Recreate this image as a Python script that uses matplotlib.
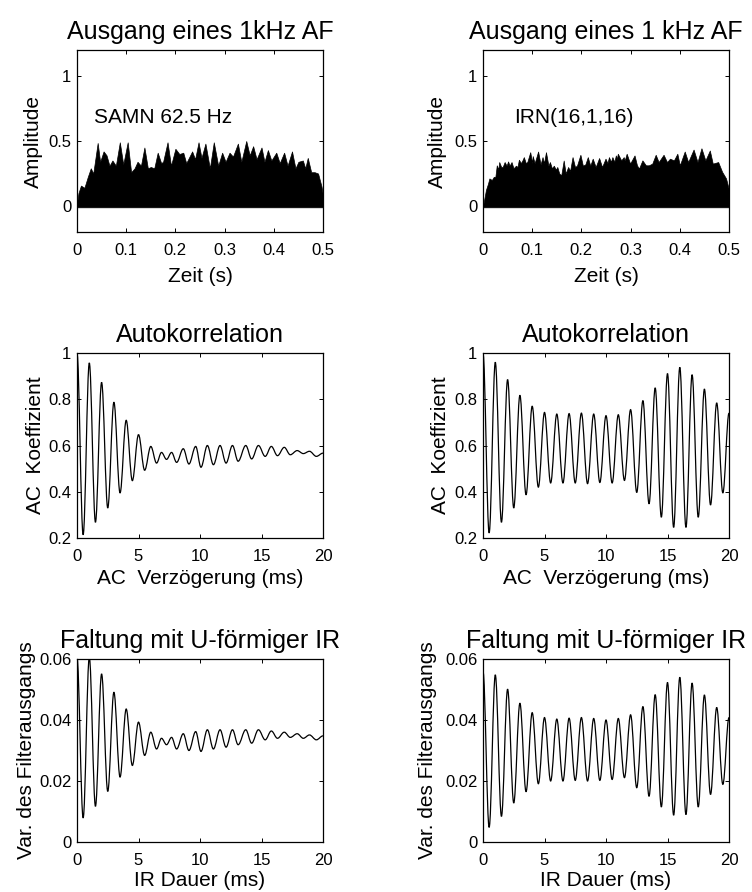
import matplotlib
matplotlib.use("Agg")
import matplotlib.pyplot as plt
from matplotlib.path import Path
from matplotlib.patches import PathPatch
from matplotlib.ticker import FormatStrFormatter

plt.rcParams['font.family'] = ['Liberation Sans', 'DejaVu Sans']

# --- top row: upper envelope of the 1 kHz filter output
samn_t = [0.000, 0.003, 0.008, 0.015, 0.022, 0.028, 0.033, 0.042, 0.047, 0.054,
          0.060, 0.066, 0.072, 0.079, 0.087, 0.094, 0.103, 0.110, 0.117, 0.123,
          0.130, 0.137, 0.144, 0.150, 0.157, 0.164, 0.171, 0.175, 0.184, 0.191,
          0.200, 0.208, 0.216, 0.222, 0.234, 0.240, 0.247, 0.253, 0.261, 0.270,
          0.278, 0.287, 0.295, 0.302, 0.310, 0.317, 0.327, 0.334, 0.344, 0.351,
          0.358, 0.365, 0.375, 0.381, 0.388, 0.395, 0.405, 0.412, 0.421, 0.428,
          0.437, 0.444, 0.450, 0.459, 0.464, 0.469, 0.476, 0.483, 0.490, 0.497,
          0.500]
samn_amp = [0.02, 0.10, 0.157, 0.14, 0.225, 0.29, 0.25, 0.485, 0.34, 0.42,
            0.39, 0.31, 0.35, 0.31, 0.49, 0.32, 0.49, 0.26, 0.29, 0.34,
            0.31, 0.45, 0.29, 0.30, 0.29, 0.41, 0.33, 0.34, 0.49, 0.31,
            0.44, 0.40, 0.41, 0.33, 0.42, 0.36, 0.49, 0.37, 0.48, 0.29,
            0.49, 0.31, 0.41, 0.34, 0.41, 0.38, 0.48, 0.34, 0.50, 0.39,
            0.46, 0.36, 0.45, 0.34, 0.43, 0.35, 0.41, 0.33, 0.41, 0.31,
            0.42, 0.29, 0.34, 0.35, 0.29, 0.37, 0.26, 0.26, 0.25, 0.15,
            0.08]

irn_t = [0.000, 0.006, 0.010, 0.013, 0.018, 0.022, 0.025, 0.028, 0.031, 0.033,
         0.037, 0.040, 0.044, 0.048, 0.051, 0.054, 0.058, 0.062, 0.067, 0.070,
         0.073, 0.077, 0.080, 0.083, 0.087, 0.090, 0.096, 0.100, 0.101, 0.105,
         0.112, 0.117, 0.121, 0.124, 0.128, 0.133, 0.136, 0.140, 0.144, 0.148,
         0.151, 0.155, 0.159, 0.164, 0.168, 0.173, 0.177, 0.182, 0.187, 0.191,
         0.198, 0.203, 0.208, 0.213, 0.218, 0.223, 0.229, 0.236, 0.242, 0.249,
         0.253, 0.256, 0.260, 0.263, 0.267, 0.270, 0.272, 0.274, 0.281, 0.286,
         0.288, 0.292, 0.299, 0.308, 0.313, 0.317, 0.324, 0.331, 0.337, 0.344,
         0.351, 0.357, 0.367, 0.374, 0.380, 0.388, 0.395, 0.400, 0.410, 0.417,
         0.428, 0.436, 0.444, 0.452, 0.461, 0.467, 0.478, 0.486, 0.494, 0.500]
irn_amp = [0.00, 0.124, 0.17, 0.212, 0.20, 0.225, 0.22, 0.313, 0.28, 0.338,
           0.30, 0.30, 0.338, 0.31, 0.343, 0.31, 0.338, 0.29, 0.31, 0.30,
           0.356, 0.33, 0.35, 0.376, 0.33, 0.338, 0.414, 0.33, 0.384, 0.33,
           0.419, 0.32, 0.376, 0.33, 0.414, 0.31, 0.338, 0.29, 0.31, 0.28,
           0.30, 0.25, 0.236, 0.35, 0.25, 0.30, 0.27, 0.376, 0.30, 0.31,
           0.394, 0.31, 0.32, 0.376, 0.31, 0.364, 0.30, 0.369, 0.30, 0.364,
           0.33, 0.376, 0.34, 0.376, 0.34, 0.389, 0.36, 0.402, 0.351, 0.376,
           0.35, 0.402, 0.326, 0.389, 0.313, 0.288, 0.351, 0.313, 0.313, 0.326,
           0.394, 0.338, 0.394, 0.338, 0.364, 0.351, 0.402, 0.313, 0.419, 0.338,
           0.434, 0.338, 0.444, 0.351, 0.427, 0.326, 0.338, 0.263, 0.212, 0.124]

# --- middle row: autocorrelation, successive peaks and troughs (ms, coefficient)
ac_samn_lag = [0, 0.5, 1, 1.5, 2, 2.5, 3, 3.5, 4, 4.5, 5, 5.5, 6, 6.47, 6.87,
               7.28, 7.69, 8.1, 8.64, 9.1, 9.65, 10.08, 10.6, 11.09, 11.63,
               12.12, 12.64, 13.1, 13.72, 14.2, 14.75, 15.3, 15.8, 16.3,
               16.85, 17.34, 17.9, 18.4, 18.9, 19.46, 20]
ac_samn = [1.0, 0.214, 0.957, 0.268, 0.873, 0.33, 0.787, 0.395, 0.709, 0.448,
           0.647, 0.493, 0.596, 0.524, 0.57, 0.54, 0.57, 0.527, 0.586, 0.52,
           0.596, 0.506, 0.60, 0.517, 0.60, 0.524, 0.60, 0.532, 0.60, 0.542,
           0.60, 0.553, 0.596, 0.556, 0.592, 0.56, 0.578, 0.565, 0.575, 0.553,
           0.567]

ac_irn_lag = [0, 0.5, 1, 1.5, 2, 2.5, 3, 3.5, 4, 4.5, 5, 5.5, 6, 6.5, 7, 7.5,
              8, 8.5, 9, 9.5, 10, 10.5, 11, 11.5, 12, 12.5, 13, 13.5, 14, 14.5,
              15, 15.5, 16, 16.5, 17, 17.5, 18, 18.5, 19, 19.5, 20]
ac_irn = [1.0, 0.222, 0.96, 0.268, 0.885, 0.33, 0.817, 0.387, 0.77, 0.42,
          0.743, 0.438, 0.736, 0.438, 0.738, 0.438, 0.74, 0.435, 0.736, 0.44,
          0.729, 0.438, 0.733, 0.449, 0.755, 0.397, 0.794, 0.348, 0.849, 0.29,
          0.911, 0.246, 0.938, 0.246, 0.906, 0.29, 0.844, 0.343, 0.784, 0.395,
          0.74]

# --- bottom row: variance of output after U-shaped IR
var_samn_dur = ac_samn_lag
var_samn = [0.0605, 0.0079, 0.0605, 0.0117, 0.0551, 0.0166, 0.0491, 0.0213,
            0.0436, 0.0251, 0.0393, 0.0284, 0.036, 0.0305, 0.034, 0.0319,
            0.0343, 0.0305, 0.0355, 0.030, 0.0362, 0.0297, 0.0368, 0.0305,
            0.0368, 0.0311, 0.0368, 0.0319, 0.0368, 0.0324, 0.0368, 0.0335,
            0.0364, 0.034, 0.036, 0.0343, 0.0355, 0.034, 0.0351, 0.0335,
            0.0348]

var_irn_dur = ac_irn_lag
var_irn = [0.056, 0.0048, 0.0548, 0.0084, 0.0501, 0.0128, 0.0455, 0.0165,
           0.0424, 0.0191, 0.0408, 0.020, 0.0403, 0.020, 0.0406, 0.0202,
           0.0408, 0.020, 0.0405, 0.0202, 0.040, 0.0205, 0.0405, 0.0211,
           0.0417, 0.0178, 0.0444, 0.015, 0.0483, 0.0115, 0.0523, 0.0088,
           0.054, 0.009, 0.0521, 0.0115, 0.0482, 0.0156, 0.0441, 0.0189,
           0.0408]


def extrema_curve(ax, xs, ys):
    # smooth curve through successive extrema (horizontal tangent at each)
    verts = [(xs[0], ys[0])]
    codes = [Path.MOVETO]
    for i in range(len(xs) - 1):
        dx = xs[i + 1] - xs[i]
        verts += [(xs[i] + 0.36 * dx, ys[i]),
                  (xs[i + 1] - 0.36 * dx, ys[i + 1]),
                  (xs[i + 1], ys[i + 1])]
        codes += [Path.CURVE4] * 3
    ax.add_patch(PathPatch(Path(verts, codes), facecolor='none',
                           edgecolor='black', lw=0.9))


def style(ax):
    ax.tick_params(direction='in', top=True, right=True, length=3,
                   width=0.7, labelsize=12)
    ax.tick_params(axis='x', pad=8)
    ax.tick_params(axis='y', pad=4)
    for s in ax.spines.values():
        s.set_linewidth(0.9)


fig = plt.figure(figsize=(7.52, 8.92), dpi=100)
lefts = [77 / 752, 483 / 752]
w = 246 / 752
rows = [(1 - 232 / 892, 182 / 892), (1 - 538 / 892, 185 / 892), (1 - 842 / 892, 183 / 892)]

top_titles = ['Ausgang eines 1kHz AF', 'Ausgang eines 1 kHz AF']
top_data = [(samn_t, samn_amp, 'SAMN 62.5 Hz', 0.035),
            (irn_t, irn_amp, 'IRN(16,1,16)', 0.063)]
ylab_x = [[-0.14, -0.145], [-0.13, -0.135], [-0.165, -0.185]]

for c in range(2):
    # top
    ax = fig.add_axes([lefts[c], rows[0][0], w, rows[0][1]])
    t, a, lab, tx = top_data[c]
    ax.fill_between(t, -0.01, a, color='black', lw=0.5)
    ax.set_xlim(0, 0.5)
    ax.set_ylim(-0.2, 1.2)
    ax.set_xticks([0, 0.1, 0.2, 0.3, 0.4, 0.5])
    ax.set_yticks([0, 0.5, 1])
    ax.xaxis.set_major_formatter(FormatStrFormatter('%g'))
    ax.yaxis.set_major_formatter(FormatStrFormatter('%g'))
    ax.text(tx, 0.64, lab, fontsize=15, ha='left', va='baseline')
    ax.set_title(top_titles[c], fontsize=18, pad=8)
    ax.set_xlabel('Zeit (s)', fontsize=15)
    ax.set_ylabel('Amplitude', fontsize=15)
    ax.xaxis.set_label_coords(0.5, -0.19)
    ax.yaxis.set_label_coords(ylab_x[0][c], 0.5)
    style(ax)

    # middle
    ax = fig.add_axes([lefts[c], rows[1][0], w, rows[1][1]])
    if c == 0:
        extrema_curve(ax, ac_samn_lag, ac_samn)
    else:
        extrema_curve(ax, ac_irn_lag, ac_irn)
    ax.set_xlim(0, 20)
    ax.set_ylim(0.2, 1)
    ax.set_xticks([0, 5, 10, 15, 20])
    ax.set_yticks([0.2, 0.4, 0.6, 0.8, 1])
    ax.xaxis.set_major_formatter(FormatStrFormatter('%g'))
    ax.yaxis.set_major_formatter(FormatStrFormatter('%g'))
    ax.set_title('Autokorrelation', fontsize=18, pad=8)
    ax.set_xlabel('AC  Verzögerung (ms)', fontsize=15)
    ax.set_ylabel('AC  Koeffizient', fontsize=15)
    ax.xaxis.set_label_coords(0.5, -0.165)
    ax.yaxis.set_label_coords(ylab_x[1][c], 0.5)
    style(ax)

    # bottom
    ax = fig.add_axes([lefts[c], rows[2][0], w, rows[2][1]])
    if c == 0:
        extrema_curve(ax, var_samn_dur, var_samn)
    else:
        extrema_curve(ax, var_irn_dur, var_irn)
    ax.set_xlim(0, 20)
    ax.set_ylim(0, 0.06)
    ax.set_xticks([0, 5, 10, 15, 20])
    ax.set_yticks([0, 0.02, 0.04, 0.06])
    ax.xaxis.set_major_formatter(FormatStrFormatter('%g'))
    ax.yaxis.set_major_formatter(FormatStrFormatter('%g'))
    ax.set_title('Faltung mit U-förmiger IR', fontsize=18, pad=8)
    ax.set_xlabel('IR Dauer (ms)', fontsize=15)
    ax.set_ylabel('Var. des Filterausgangs', fontsize=15)
    ax.xaxis.set_label_coords(0.5, -0.16)
    ax.yaxis.set_label_coords(ylab_x[2][c], 0.5)
    style(ax)

fig.savefig('out.png', dpi=100)
